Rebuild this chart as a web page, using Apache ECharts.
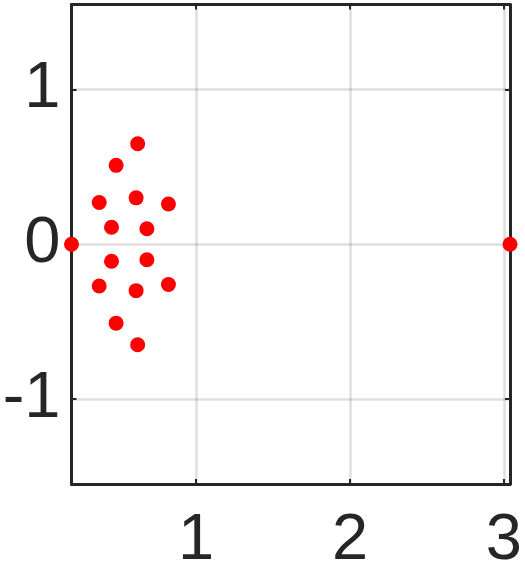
<!DOCTYPE html>
<html>
<head>
<meta charset="utf-8">
<script src="https://cdn.jsdelivr.net/npm/echarts@6/dist/echarts.min.js"></script>
<style>
  html, body { margin: 0; padding: 0; background: #fff; }
  #chart { width: 525px; height: 570px; }
</style>
</head>
<body>
<div id="chart"></div>
<script>
// points
var pointX = [0.19, 0.62, 0.62, 0.48, 0.48, 0.37, 0.37, 0.61, 0.61, 0.82, 0.82, 0.45, 0.45, 0.68, 0.68, 3.04];
var pointY = [0, 0.65, -0.65, 0.51, -0.51, 0.27, -0.27, 0.30, -0.30, 0.26, -0.26, 0.11, -0.11, 0.10, -0.10, 0];
var xTicks = [1, 2, 3];
var yTicks = [-1, 0, 1];
var xRange = [0.19, 3.04];
var yRange = [-1.55, 1.55];

var ink = '#262626';
var fontFamily = '"Liberation Sans", Arial, Helvetica, sans-serif';

function frameAxis(pos, ticks, range, labels, margin) {
  return {
    type: 'value',
    position: pos,
    min: range[0],
    max: range[1],
    axisLine: { show: true, onZero: false, lineStyle: { color: ink, width: 3 } },
    axisTick: { show: true, inside: true, length: 5, customValues: ticks, lineStyle: { color: ink, width: 2 } },
    axisLabel: {
      show: labels,
      customValues: ticks,
      margin: margin,
      color: ink,
      fontSize: 65,
      fontFamily: fontFamily
    },
    splitLine: {
      show: labels,
      lineStyle: { color: 'rgba(38,38,38,0.15)', width: 2.5 }
    },
    z: 5
  };
}

var data = pointX.map(function (x, i) { return [x, pointY[i]]; });

var chart = echarts.init(document.getElementById('chart'));
chart.setOption({
  animation: false,
  grid: { left: 71.5, right: 15, top: 4.5, bottom: 86, containLabel: false, outerBoundsMode: 'none' },
  xAxis: [
    frameAxis('bottom', xTicks, xRange, true, 25),
    frameAxis('top', xTicks, xRange, false, 0)
  ],
  yAxis: [
    frameAxis('left', yTicks, yRange, true, 11),
    frameAxis('right', yTicks, yRange, false, 0)
  ],
  series: [{
    type: 'scatter',
    data: data,
    symbol: 'circle',
    symbolSize: 15,
    itemStyle: { color: '#ff0000', opacity: 1 },
    clip: false,
    z: 10
  }]
});
</script>
</body>
</html>
